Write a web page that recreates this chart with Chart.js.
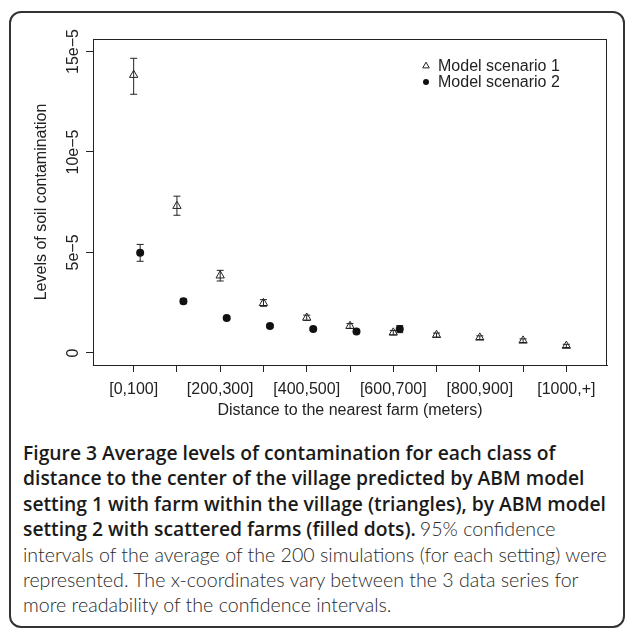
<!DOCTYPE html>
<html lang="en">
<head>
<meta charset="UTF-8">
<title>Figure 3</title>
<script src="https://cdn.jsdelivr.net/npm/chart.js@4"></script>
<style>
  html, body { margin: 0; padding: 0; background: #fff; }
  body { width: 629px; height: 630px; position: relative; overflow: hidden; }
  .card { position: absolute; left: 9px; top: 11px; width: 616px; height: 617px; box-sizing: border-box;
          border: 2px solid #333; border-radius: 12px; }
  .plot { position: absolute; left: 0; top: 0; width: 629px; height: 430px; }
  .caption { position: absolute; left: 23px; top: 440px; width: 600px; white-space: nowrap; color: #222; }
  .caption div { height: 25.4px; line-height: 25.4px; overflow: visible; }
  .caption b { font-family: "Open Sans", Lato, sans-serif; font-size: 19.3px; font-weight: 600; color: #1a1a1a; }
  .caption span { font-family: Lato, "Open Sans", sans-serif; font-size: 19.6px; font-weight: 300; color: #2a2a2a; }
</style>
</head>
<body>
<div class="card"></div>
<div class="plot"><canvas id="chart" width="629" height="430"></canvas></div>
<div class="caption">
  <div><b>Figure 3 Average levels of contamination for each class of</b></div>
  <div><b>distance to the center of the village predicted by ABM model</b></div>
  <div><b>setting 1 with farm within the village (triangles), by ABM model</b></div>
  <div><b>setting 2 with scattered farms (filled dots).</b> <span>95% confidence</span></div>
  <div><span>intervals of the average of the 200 simulations (for each setting) were</span></div>
  <div><span>represented. The x-coordinates vary between the 3 data series for</span></div>
  <div><span>more readability of the confidence intervals.</span></div>
</div>
<script>
  // distance classes (x positions 1..11), R only printed every other label
  const categories = ['[0,100]', '[100,200]', '[200,300]', '[300,400]', '[400,500]', '[500,600]',
                      '[600,700]', '[700,800]', '[800,900]', '[900,1000]', '[1000,+]'];
  const xTickLabels = ['[0,100]', '', '[200,300]', '', '[400,500]', '', '[600,700]', '', '[800,900]', '', '[1000,+]'];
  const xTickValues = [1, 2, 3, 4, 5, 6, 7, 8, 9, 10, 11];

  const yTickValues = [0, 5e-5, 10e-5, 15e-5];
  const yTickLabels = ['0', '5e\u22125', '10e\u22125', '15e\u22125'];

  // Model scenario 1 (triangles)
  const s1X    = [1, 2, 3, 4, 5, 6, 7, 8, 9, 10, 11];
  const s1Mean = [13.83e-5, 7.31e-5, 3.85e-5, 2.48e-5, 1.75e-5, 1.34e-5, 1.01e-5, 0.89e-5, 0.76e-5, 0.61e-5, 0.35e-5];
  const s1Low  = [12.87e-5, 6.85e-5, 3.58e-5, 2.32e-5, 1.62e-5, 1.22e-5, 0.90e-5, 0.79e-5, 0.67e-5, 0.52e-5, 0.27e-5];
  const s1High = [14.66e-5, 7.80e-5, 4.11e-5, 2.65e-5, 1.88e-5, 1.46e-5, 1.12e-5, 0.99e-5, 0.85e-5, 0.70e-5, 0.43e-5];

  // Model scenario 2 (filled dots), shifted a bit to the right
  const s2X    = [1.15, 2.15, 3.15, 4.15, 5.15, 6.15, 7.15];
  const s2Mean = [4.99e-5, 2.57e-5, 1.74e-5, 1.34e-5, 1.19e-5, 1.07e-5, 1.19e-5];
  const s2Low  = [4.56e-5, 2.45e-5, 1.67e-5, 1.28e-5, 1.13e-5, 1.01e-5, 1.01e-5];
  const s2High = [5.40e-5, 2.69e-5, 1.81e-5, 1.40e-5, 1.25e-5, 1.13e-5, 1.36e-5];

  const FONT = '"Liberation Sans", Arial, Helvetica, sans-serif';
  const INK = '#222';

  const toPoints = (xs, ys) => xs.map((x, i) => ({ x, y: ys[i] }));

  // confidence interval whiskers
  const errorBars = {
    id: 'errorBars',
    beforeDatasetsDraw(chart) {
      const { ctx, scales: { x, y } } = chart;
      ctx.save();
      ctx.strokeStyle = INK;
      ctx.lineWidth = 1;
      chart.data.datasets.forEach(ds => {
        ds.data.forEach((p, i) => {
          const px = x.getPixelForValue(p.x);
          const lo = y.getPixelForValue(ds.errLow[i]);
          const hi = y.getPixelForValue(ds.errHigh[i]);
          ctx.beginPath();
          ctx.moveTo(px, lo); ctx.lineTo(px, hi);
          ctx.moveTo(px - 3.5, lo); ctx.lineTo(px + 3.5, lo);
          ctx.moveTo(px - 3.5, hi); ctx.lineTo(px + 3.5, hi);
          ctx.stroke();
        });
      });
      ctx.restore();
    }
  };

  // box, rotated y tick labels and legend like base R
  const rDecor = {
    id: 'rDecor',
    afterDraw(chart) {
      const { ctx, chartArea: a, scales: { y } } = chart;
      ctx.save();
      ctx.strokeStyle = INK;
      ctx.lineWidth = 1;
      ctx.strokeRect(Math.round(a.left) + 0.5, Math.round(a.top) + 0.5,
                     Math.round(a.right - a.left) - 1, Math.round(a.bottom - a.top));

      ctx.fillStyle = INK;
      ctx.font = '16px ' + FONT;
      ctx.textAlign = 'center';
      ctx.textBaseline = 'middle';
      yTickValues.forEach((v, i) => {
        ctx.save();
        ctx.translate(a.left - 19, y.getPixelForValue(v));
        ctx.rotate(-Math.PI / 2);
        ctx.fillText(yTickLabels[i], 0, 0);
        ctx.restore();
      });

      // legend
      const lx = a.right - 181, ly = a.top + 27;
      ctx.textAlign = 'left';
      chart.data.datasets.forEach((ds, i) => {
        const yy = ly + i * 16;
        ctx.fillStyle = ds.backgroundColor;
        ctx.strokeStyle = ds.borderColor;
        Chart.helpers.drawPoint(ctx, {
          pointStyle: ds.pointStyle, radius: ds.legendRadius, borderWidth: ds.pointBorderWidth
        }, lx, yy);
        ctx.fillStyle = INK;
        ctx.fillText(ds.label, lx + 12, yy + 1);
      });
      ctx.restore();
    }
  };

  new Chart(document.getElementById('chart'), {
    type: 'scatter',
    data: {
      datasets: [
        {
          label: 'Model scenario 1',
          data: toPoints(s1X, s1Mean),
          errLow: s1Low, errHigh: s1High,
          pointStyle: 'triangle',
          pointRadius: 4.8,
          pointBorderWidth: 1,
          borderColor: INK,
          backgroundColor: 'rgba(0,0,0,0)',
          legendRadius: 3.8,
        },
        {
          label: 'Model scenario 2',
          data: toPoints(s2X, s2Mean),
          errLow: s2Low, errHigh: s2High,
          pointStyle: 'circle',
          pointRadius: 4,
          pointBorderWidth: 0,
          borderColor: '#111',
          backgroundColor: '#111',
          legendRadius: 3,
        },
      ],
    },
    options: {
      responsive: false,
      animation: false,
      events: [],
      layout: { padding: { top: 39, right: 22, left: 0, bottom: 0 } },
      plugins: { legend: { display: false }, tooltip: { enabled: false } },
      scales: {
        x: {
          type: 'linear',
          min: 0.06, max: 11.94,
          afterBuildTicks: s => { s.ticks = xTickValues.map(v => ({ value: v })); },
          afterFit: s => { s.height = 65; },
          grid: { display: true, drawOnChartArea: false, drawTicks: true, tickLength: 7, color: INK },
          border: { display: true, color: INK },
          ticks: {
            autoSkip: false, maxRotation: 0, minRotation: 0, padding: 8,
            color: INK, font: { family: FONT, size: 16 },
            callback: (v, i) => xTickLabels[i],
          },
          title: {
            display: true, text: 'Distance to the nearest farm (meters)',
            color: INK, font: { family: FONT, size: 16 },
            padding: { top: 0, bottom: 10 },
          },
        },
        y: {
          min: -0.6e-5, max: 15.62e-5,
          afterBuildTicks: s => { s.ticks = yTickValues.map(v => ({ value: v })); },
          afterFit: s => { s.width = 93; },
          grid: { display: true, drawOnChartArea: false, drawTicks: true, tickLength: 7, color: INK },
          border: { display: true, color: INK },
          ticks: { display: false },
          title: {
            display: true, text: 'Levels of soil contamination',
            color: INK, font: { family: FONT, size: 16 },
            padding: { top: 32, bottom: 0 },
          },
        },
      },
    },
    plugins: [errorBars, rDecor],
  });
</script>
</body>
</html>
